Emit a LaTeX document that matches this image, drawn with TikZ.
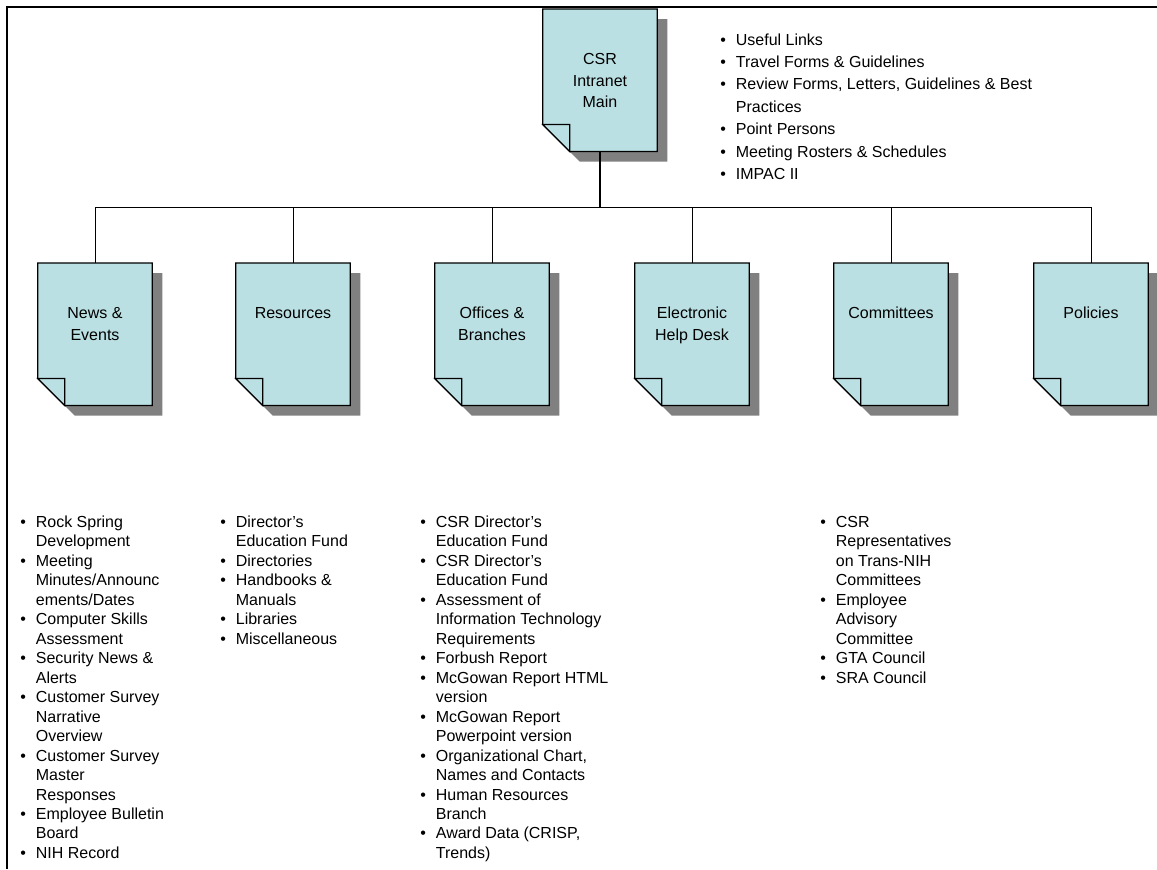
\documentclass[tikz,border=0pt]{standalone}
\usepackage{fontspec}
\setmainfont{Liberation Sans}

\definecolor{pageblue}{RGB}{187,224,227}
\definecolor{shadowgray}{RGB}{128,128,128}

% one page with a folded corner: name, top centre, label
\newcommand\docpage[3]{%
   \node[pagebox] (#1) at (#2) {};
   \fill [shadowgray,transform canvas={shift={(10,10)}}]
      (#1.north west) -- (#1.north east) -- (#1.south east)
      -- ([shift={(27,0)}]#1.south west) -- ([shift={(0,-27)}]#1.south west) -- cycle;
   \filldraw [pageline]
      (#1.north west) -- (#1.north east) -- (#1.south east)
      -- ([shift={(27,0)}]#1.south west) -- ([shift={(0,-27)}]#1.south west) -- cycle;
   \filldraw [pageline]
      ([shift={(0,-27)}]#1.south west) -- ([shift={(27,-27)}]#1.south west)
      -- ([shift={(27,0)}]#1.south west) -- cycle;
   \node[pagetext] (#1-label) at ([shift={(0,44)}]#1.north) {#3};
}

\begin{document}
\begin{tikzpicture}[x=0.75pt,y=-0.75pt,
      pagebox/.style={minimum width=85.5pt,minimum height=106.5pt,inner sep=0pt,anchor=north},
      pageline/.style={draw=black,line width=0.9pt,fill=pageblue},
      pagetext/.style={anchor=north,align=center,inner sep=0pt,font=\fontsize{12}{16.3}\selectfont},
      itemlist/.style={anchor=base west,inner sep=0pt,font=\fontsize{12}{14.6}\selectfont},
      link/.style={draw=black,line width=0.75pt}]
   \useasboundingbox (0,0) rectangle (1157,869);
   \draw [line width=1.5pt] (7,869) -- (7,7) -- (1157,7);

   \docpage{main}{600,9}{CSR\\Intranet\\Main}
   \docpage{news}{95,263}{News \&\\Events}
   \docpage{resources}{293,263}{Resources}
   \docpage{offices}{492,263}{Offices \&\\Branches}
   \docpage{helpdesk}{692,263}{Electronic\\Help Desk}
   \docpage{committees}{891,263}{Committees}
   \docpage{policies}{1091,263}{Policies}

   \coordinate (bus) at (600,207);
   \draw [link,line width=1.5pt] (main.south) -- (main.south |- bus);
   \draw [link] (news.north |- bus) -- (policies.north |- bus);
   \foreach \p in {news,resources,offices,helpdesk,committees,policies}
      \draw [link] (\p.north) -- (\p.north |- bus);

   \node[itemlist,font=\fontsize{12}{16.8}\selectfont] (mainlist) at (720,45) {%
      \begin{tabular}[t]{@{}l@{\hspace{7.5pt}}l@{}}
      \textbullet & Useful Links\\
      \textbullet & Travel Forms \& Guidelines\\
      \textbullet & Review Forms, Letters, Guidelines \& Best\\
                  & Practices\\
      \textbullet & Point Persons\\
      \textbullet & Meeting Rosters \& Schedules\\
      \textbullet & IMPAC II
      \end{tabular}};

   \node[itemlist] (newslist) at (20,527.5) {%
      \begin{tabular}[t]{@{}l@{\hspace{7.5pt}}l@{}}
      \textbullet & Rock Spring\\
                  & Development\\
      \textbullet & Meeting\\
                  & Minutes/Announc\\
                  & ements/Dates\\
      \textbullet & Computer Skills\\
                  & Assessment\\
      \textbullet & Security News \&\\
                  & Alerts\\
      \textbullet & Customer Survey\\
                  & Narrative\\
                  & Overview\\
      \textbullet & Customer Survey\\
                  & Master\\
                  & Responses\\
      \textbullet & Employee Bulletin\\
                  & Board\\
      \textbullet & NIH Record
      \end{tabular}};

   \node[itemlist] (resourcelist) at (220,527.5) {%
      \begin{tabular}[t]{@{}l@{\hspace{7.5pt}}l@{}}
      \textbullet & Director's\\
                  & Education Fund\\
      \textbullet & Directories\\
      \textbullet & Handbooks \&\\
                  & Manuals\\
      \textbullet & Libraries\\
      \textbullet & Miscellaneous
      \end{tabular}};

   \node[itemlist] (officelist) at (420,527.5) {%
      \begin{tabular}[t]{@{}l@{\hspace{7.5pt}}l@{}}
      \textbullet & CSR Director's\\
                  & Education Fund\\
      \textbullet & CSR Director's\\
                  & Education Fund\\
      \textbullet & Assessment of\\
                  & Information Technology\\
                  & Requirements\\
      \textbullet & Forbush Report\\
      \textbullet & McGowan Report HTML\\
                  & version\\
      \textbullet & McGowan Report\\
                  & Powerpoint version\\
      \textbullet & Organizational Chart,\\
                  & Names and Contacts\\
      \textbullet & Human Resources\\
                  & Branch\\
      \textbullet & Award Data (CRISP,\\
                  & Trends)
      \end{tabular}};

   \node[itemlist] (committeelist) at (820,527.5) {%
      \begin{tabular}[t]{@{}l@{\hspace{7.5pt}}l@{}}
      \textbullet & CSR\\
                  & Representatives\\
                  & on Trans-NIH\\
                  & Committees\\
      \textbullet & Employee\\
                  & Advisory\\
                  & Committee\\
      \textbullet & GTA Council\\
      \textbullet & SRA Council
      \end{tabular}};
\end{tikzpicture}
\end{document}
